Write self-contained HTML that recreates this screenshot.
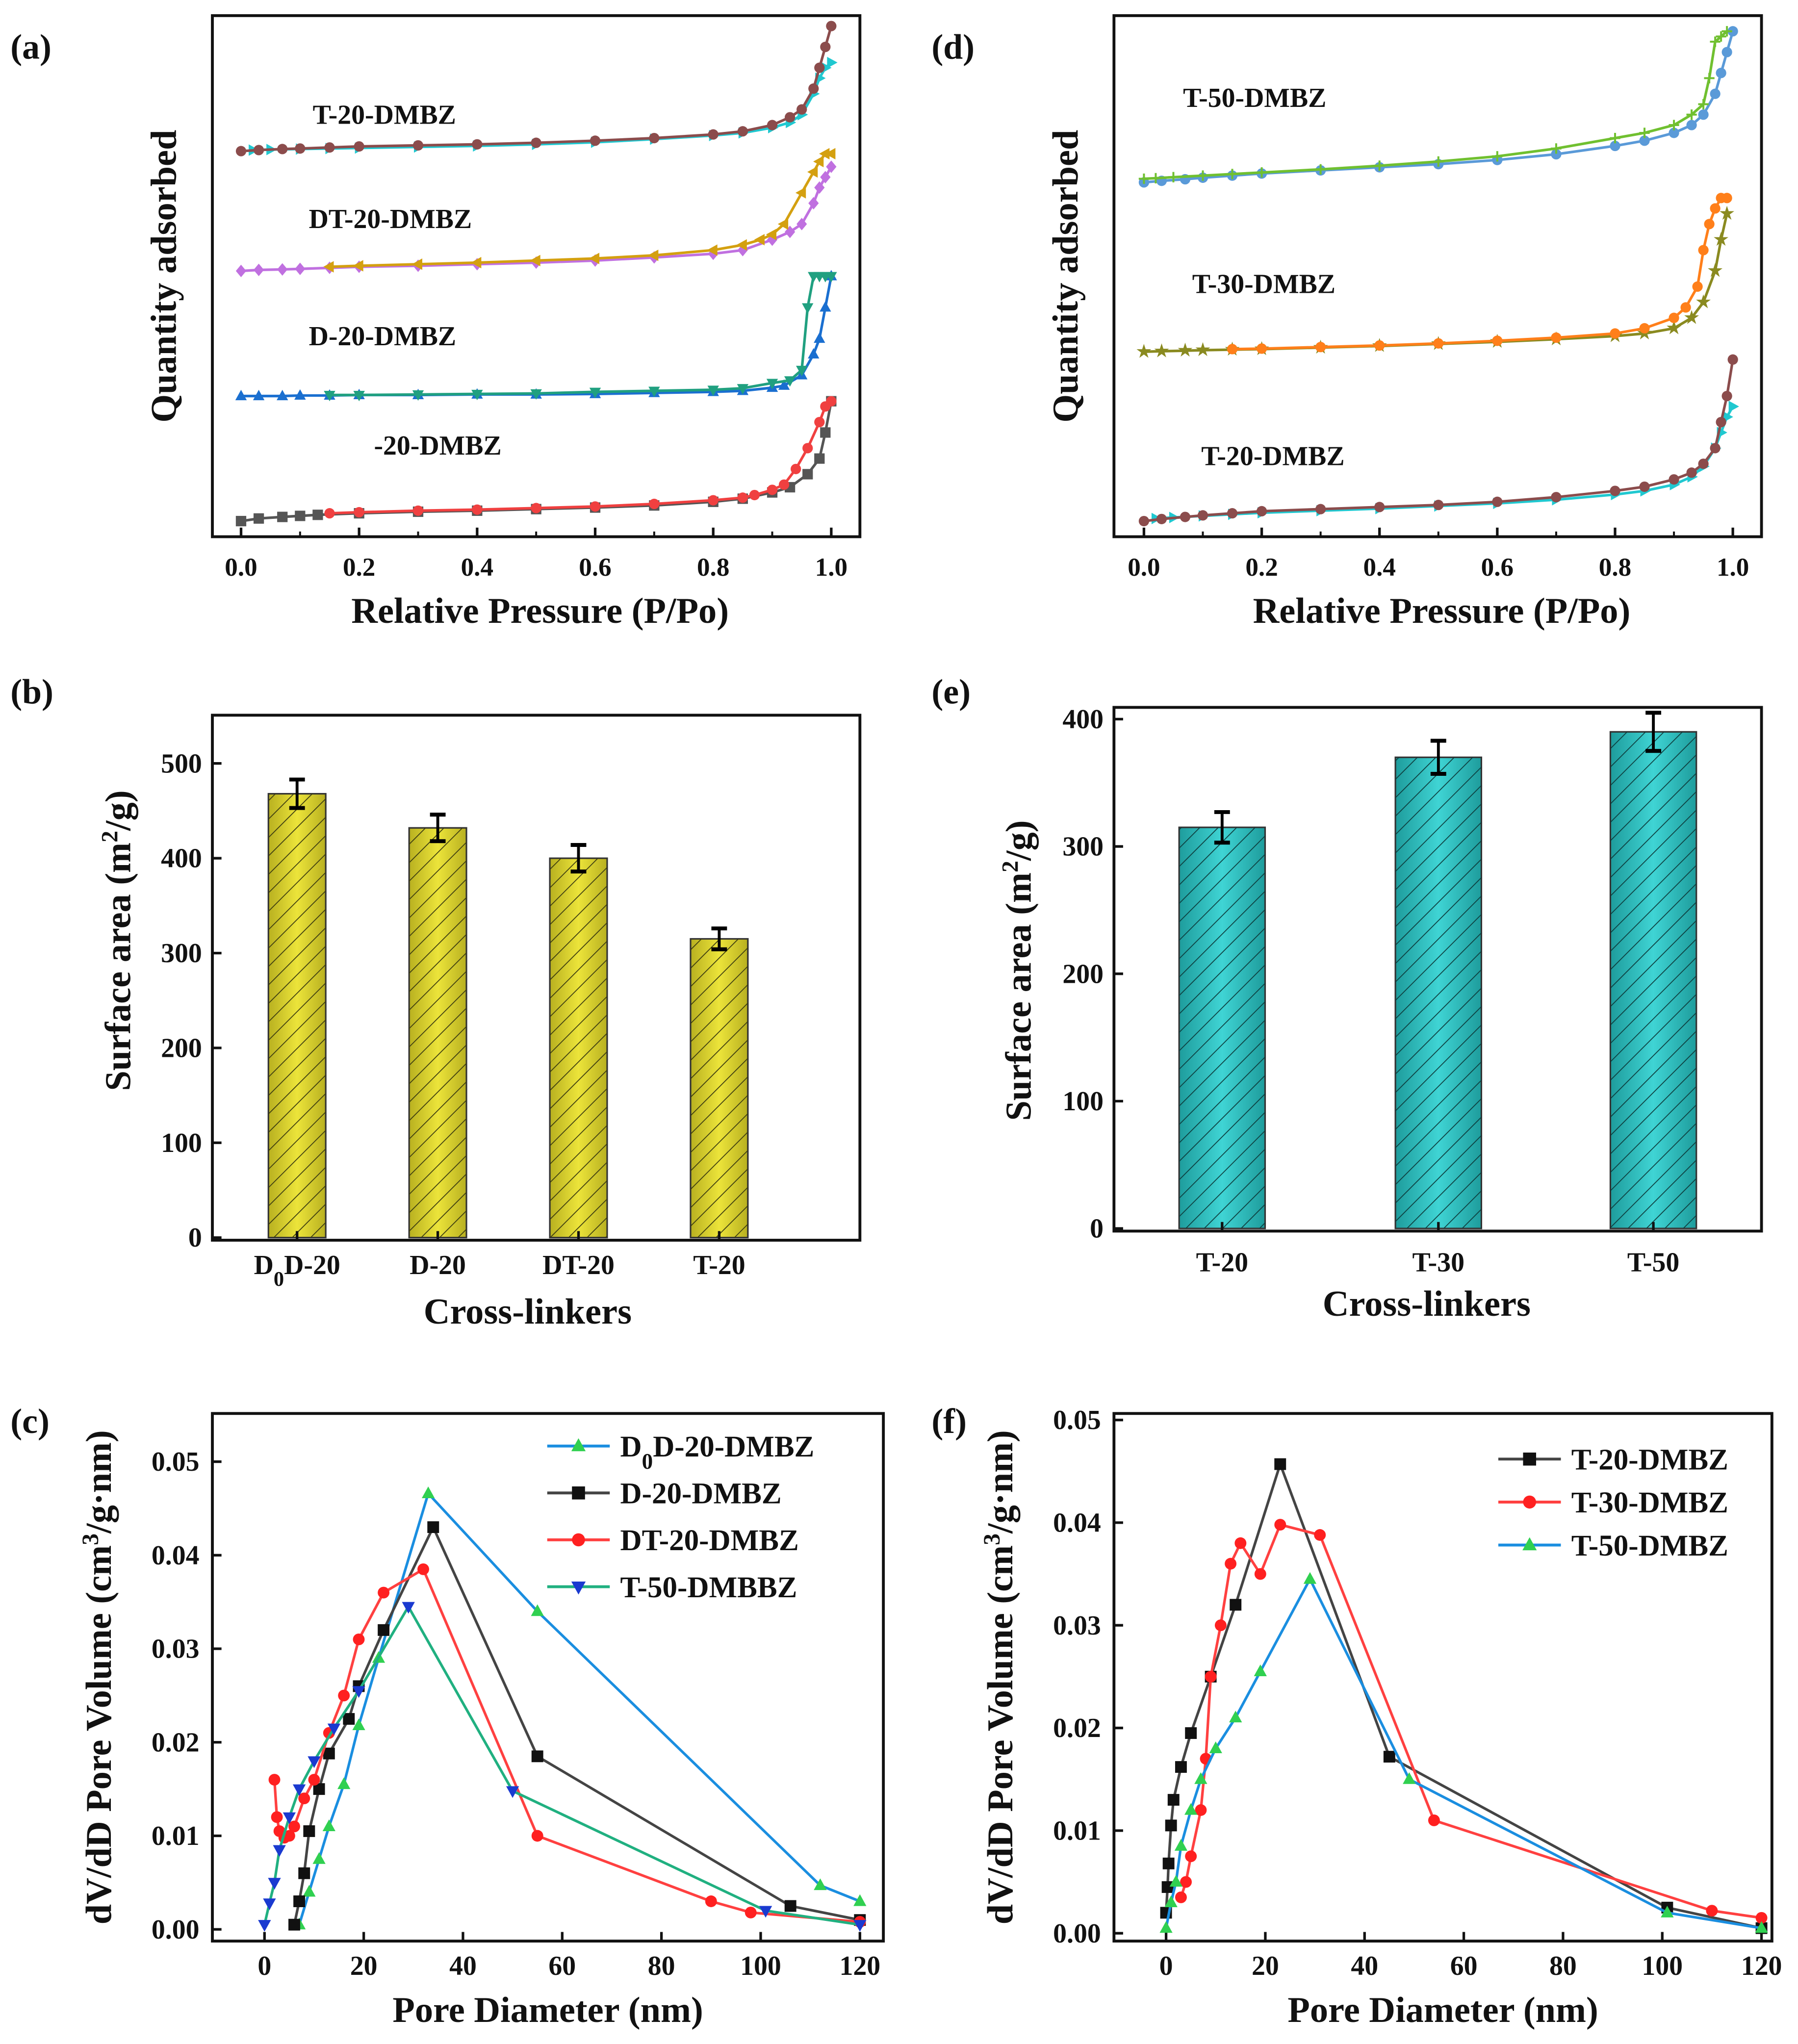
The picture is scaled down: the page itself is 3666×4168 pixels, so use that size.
<!DOCTYPE html>
<html><head><meta charset="utf-8">
<style>
html,body{margin:0;padding:0;background:#fff;}
svg{display:block;font-family:"Liberation Serif",serif;font-weight:bold;}
</style></head>
<body>
<svg id="fig" width="3666" height="4168" viewBox="0 0 1380 1569" xmlns="http://www.w3.org/2000/svg">
<defs>
<linearGradient id="gy" x1="0" x2="1"><stop offset="0" stop-color="#b8b020"/><stop offset="0.5" stop-color="#ece43a"/><stop offset="1" stop-color="#b8b020"/></linearGradient>
<linearGradient id="gt" x1="0" x2="1"><stop offset="0" stop-color="#1e9c9c"/><stop offset="0.5" stop-color="#3fd4d4"/><stop offset="1" stop-color="#1e9c9c"/></linearGradient>
<pattern id="hy" width="10" height="10" patternUnits="userSpaceOnUse" patternTransform="rotate(45)"><rect width="10" height="10" fill="none"/><line x1="0" y1="0" x2="0" y2="10" stroke="#3a3a10" stroke-width="1.3"/></pattern>
<pattern id="ht" width="10" height="10" patternUnits="userSpaceOnUse" patternTransform="rotate(45)"><line x1="0" y1="0" x2="0" y2="10" stroke="#0d3d3d" stroke-width="1.3"/></pattern>
</defs>
</svg>
<script>
// ---------- data ----------
const aBotAdsP=[0,0.03,0.07,0.1,0.13,0.2,0.3,0.4,0.5,0.6,0.7,0.8,0.85,0.9,0.93,0.96,0.98,0.99,1.0];
const aBotAdsQ=[3,3.5,3.8,4,4.2,4.5,4.8,5,5.3,5.6,6,6.7,7.3,8.5,9.5,12,15,20,26];
const aBotDesP=[1.0,0.99,0.98,0.96,0.94,0.92,0.9,0.87,0.85,0.8,0.7,0.6,0.5,0.4,0.3,0.2,0.15];
const aBotDesQ=[26,25,22,17,13,10,9,8,7.5,7,6.3,5.8,5.5,5.2,5,4.7,4.5];
const aDAdsP=[0,0.03,0.07,0.1,0.15,0.2,0.3,0.4,0.5,0.6,0.7,0.8,0.85,0.9,0.92,0.95,0.97,0.98,0.99,1.0];
const aDAdsQ=[27,27,27,27.1,27.1,27.2,27.2,27.3,27.3,27.4,27.6,27.8,28,28.6,29,31,35,38,44,50];
const aDDesP=[1.0,0.99,0.98,0.97,0.96,0.95,0.93,0.9,0.85,0.8,0.7,0.6,0.5,0.4,0.3,0.2,0.15];
const aDDesQ=[50,50,50,50,44,32,30,29.5,28.5,28.2,28,27.8,27.5,27.4,27.3,27.2,27.2];
const aDTAdsP=[0,0.03,0.07,0.1,0.15,0.2,0.3,0.4,0.5,0.6,0.7,0.8,0.85,0.9,0.93,0.95,0.97,0.98,0.99,1.0];
const aDTAdsQ=[51,51.2,51.3,51.4,51.6,51.8,52,52.3,52.6,53,53.6,54.3,55,57,58.5,60,64,67,69,71];
const aDTDesP=[1.0,0.99,0.98,0.97,0.95,0.92,0.9,0.88,0.85,0.8,0.7,0.6,0.5,0.4,0.3,0.2,0.15];
const aDTDesQ=[73.5,73.5,72,70,66,60,58,57,56,55,54,53.4,53,52.6,52.3,52,51.8];
const aTAdsP=[0,0.03,0.07,0.1,0.15,0.2,0.3,0.4,0.5,0.6,0.7,0.8,0.85,0.9,0.93,0.95,0.97,0.98,0.99,1.0];
const aTAdsQ=[74,74.2,74.4,74.5,74.7,74.9,75.1,75.3,75.6,76,76.5,77.2,77.8,79,80.5,82,86,90,94,98];
const aTDesP=[1.0,0.99,0.98,0.97,0.95,0.93,0.9,0.85,0.8,0.7,0.6,0.5,0.4,0.3,0.2,0.15,0.1,0.05,0.02];
const aTDesQ=[91,90,88,85,81,79.5,78.5,77.5,77,76.3,75.7,75.3,75,74.8,74.6,74.5,74.4,74.3,74.2];
const dT20AdsP=aTAdsP;
const dT20AdsQ=[3,3.4,3.8,4.1,4.5,4.9,5.3,5.7,6.1,6.7,7.6,8.8,9.6,11,12.3,14,17,22,27,34];
const dT20DesP=[1.0,0.99,0.98,0.97,0.95,0.93,0.9,0.85,0.8,0.7,0.6,0.5,0.4,0.3,0.2,0.15,0.1,0.05,0.02];
const dT20DesQ=[25,23,20,17,13.5,11.5,10,8.8,8.1,7.1,6.4,5.9,5.4,5,4.6,4.3,4,3.7,3.5];
const dT30AdsP=[0,0.03,0.07,0.1,0.15,0.2,0.3,0.4,0.5,0.6,0.7,0.8,0.85,0.9,0.93,0.95,0.97,0.98,0.99];
const dT30AdsQ=[35.5,35.6,35.7,35.8,35.9,36,36.3,36.6,37,37.4,37.9,38.5,39,40,42,45,51,57,62];
const dT30DesP=[0.99,0.98,0.97,0.96,0.95,0.94,0.92,0.9,0.85,0.8,0.7,0.6,0.5,0.4,0.3,0.2,0.15];
const dT30DesQ=[65,65,63,60,55,48,44,42,40,39,38.2,37.6,37.1,36.7,36.4,36.1,36];
const dT50AdsP=[0,0.03,0.07,0.1,0.15,0.2,0.3,0.4,0.5,0.6,0.7,0.8,0.85,0.9,0.93,0.95,0.97,0.98,0.99,1.0];
const dT50AdsQ=[68,68.3,68.6,68.9,69.3,69.7,70.3,70.9,71.5,72.3,73.4,75,76,77.5,79,81,85,89,93,97];
const dT50DesP=[0.99,0.98,0.97,0.96,0.95,0.93,0.9,0.85,0.8,0.7,0.6,0.5,0.4,0.3,0.2,0.15,0.1,0.05,0.02,0];
const dT50DesQ=[97,96,95,88,83,81,79,77.5,76.5,74.5,73,72,71.2,70.5,69.9,69.6,69.3,69,68.8,68.7];
const bCats=["D0D-20","D-20","DT-20","T-20"];
const bVals=[468,432,400,315];
const bErrs=[15,14,14,11];
const eCats=["T-20","T-30","T-50"];
const eVals=[315,370,390];
const eErrs=[12,13,15];
const cD0DX=[7,9,11,13,16,19,23,33,55,112,120];
const cD0DY=[0.0005,0.004,0.0075,0.011,0.0155,0.0218,0.029,0.0466,0.034,0.0047,0.003];
const cDX=[6,7,8,9,11,13,17,19,24,34,55,106,120];
const cDY=[0.0005,0.003,0.006,0.0105,0.015,0.0188,0.0225,0.026,0.032,0.043,0.0185,0.0025,0.001];
const cDTX=[2,2.5,3,4,5,6,8,10,13,16,19,24,32,55,90,98,120];
const cDTY=[0.016,0.012,0.0105,0.0098,0.01,0.011,0.014,0.016,0.021,0.025,0.031,0.036,0.0385,0.010,0.003,0.0018,0.0008];
const cT50X=[0,1,2,3,5,7,10,14,19,29,50,101,120];
const cT50Y=[0.0005,0.0028,0.005,0.0085,0.012,0.015,0.018,0.0215,0.0255,0.0345,0.0148,0.002,0.0005];
const fT20X=[0,0.3,0.5,1,1.5,3,5,9,14,23,45,101,120];
const fT20Y=[0.002,0.0045,0.0068,0.0105,0.013,0.0162,0.0195,0.025,0.032,0.0457,0.0172,0.0025,0.0005];
const fT30X=[3,4,5,7,8,9,11,13,15,19,23,31,54,110,120];
const fT30Y=[0.0035,0.005,0.0075,0.012,0.017,0.025,0.030,0.036,0.038,0.035,0.0398,0.0388,0.011,0.0022,0.0015];
const fT50X=[0,1,2,3,5,7,10,14,19,29,49,101,120];
const fT50Y=[0.0005,0.003,0.005,0.0085,0.012,0.015,0.018,0.021,0.0255,0.0345,0.015,0.002,0.0005];
const pTicks=["0.0","0.2","0.4","0.6","0.8","1.0"];
const dTicks=["0","20","40","60","80","100","120"];
const cYTicks=["0.00","0.01","0.02","0.03","0.04","0.05"];

// ---------- helpers ----------
const svg=document.getElementById('fig');
const NS='http://www.w3.org/2000/svg';
function mk(tag,attrs,parent){const e=document.createElementNS(NS,tag);for(const k in attrs)e.setAttribute(k,attrs[k]);(parent||svg).appendChild(e);return e;}
function txt(s,x,y,size,anchor,parent,rot){const t=mk('text',{x:x,y:y,'font-size':size,'text-anchor':anchor||'middle',fill:'#111'},parent);if(rot)t.setAttribute('transform','rotate(-90 '+x+' '+y+')');t.textContent=s;return t;}
function marker(g,type,x,y,c,s){
  s=s||4.5;
  if(type==='circle')mk('circle',{cx:x,cy:y,r:s,fill:c},g);
  else if(type==='square')mk('rect',{x:x-s,y:y-s,width:2*s,height:2*s,fill:c},g);
  else if(type==='up')mk('polygon',{points:`${x},${y-s*1.2} ${x-s*1.1},${y+s*0.8} ${x+s*1.1},${y+s*0.8}`,fill:c},g);
  else if(type==='down')mk('polygon',{points:`${x},${y+s*1.2} ${x-s*1.1},${y-s*0.8} ${x+s*1.1},${y-s*0.8}`,fill:c},g);
  else if(type==='right')mk('polygon',{points:`${x+s*1.2},${y} ${x-s*0.8},${y-s*1.1} ${x-s*0.8},${y+s*1.1}`,fill:c},g);
  else if(type==='left')mk('polygon',{points:`${x-s*1.2},${y} ${x+s*0.8},${y-s*1.1} ${x+s*0.8},${y+s*1.1}`,fill:c},g);
  else if(type==='diamond')mk('polygon',{points:`${x},${y-s*1.2} ${x+s},${y} ${x},${y+s*1.2} ${x-s},${y}`,fill:c},g);
  else if(type==='star')mk('text',{x:x,y:y+4,'font-size':13,'text-anchor':'middle',fill:c},g).textContent='★';
  else if(type==='plus'){mk('line',{x1:x-s,y1:y,x2:x+s,y2:y,stroke:c,'stroke-width':1.5},g);mk('line',{x1:x,y1:y-s,x2:x,y2:y+s,stroke:c,'stroke-width':1.5},g);}
}
function series(g,xs,ys,sx,sy,lc,mc,type,ms){
  const pts=xs.map((v,i)=>sx(v)+','+sy(ys[i])).join(' ');
  mk('polyline',{points:pts,fill:'none',stroke:lc,'stroke-width':2},g);
  xs.forEach((v,i)=>marker(g,type,sx(v),sy(ys[i]),mc,ms));
}
function box(g,x0,y0,x1,y1){mk('rect',{x:x0,y:y0,width:x1-x0,height:y1-y0,fill:'none',stroke:'#111','stroke-width':2.2},g);}

[['(a)',8,45],['(d)',715,45],['(b)',8,540],['(e)',715,540],['(c)',8,1100],['(f)',715,1100]].forEach(p=>{
  const t=txt(p[0],p[1],p[2],27,'start');
  
  
});

function isoPanel(name,x0,x1,px0,px1,curves,labels){
  const g=mk('g',{});
  
  
  const y0=12,y1=412;
  box(g,x0-22,y0,x1+22,y1);
  const sx=p=>px0+(px1-px0)*p, sy=q=>y1-(y1-y0)*q/100;
  pTicks.forEach(t=>{const x=sx(parseFloat(t));mk('line',{x1:x,y1:y1,x2:x,y2:y1-7,stroke:'#111','stroke-width':2},g);txt(t,x,y1+30,20,'middle',g);});
  [0.1,0.3,0.5,0.7,0.9].forEach(v=>mk('line',{x1:sx(v),y1:y1,x2:sx(v),y2:y1-4,stroke:'#111','stroke-width':1.5},g));
  curves.forEach(c=>series(g,c[0],c[1],sx,sy,c[2],c[2],c[3],4));
  labels.forEach(l=>txt(l[0],l[1],l[2],21,'start',g));
  const xt=txt('Relative Pressure (P/Po)',(x0+x1)/2+3,y1+66,28,'middle',g);
  
  const yt=txt('Quantity adsorbed',x0-50,(y0+y1)/2,28,'middle',g,true);
  
}
isoPanel('panel-a-isotherms',163+22,660-22,185,638,[
  [aBotAdsP,aBotAdsQ,'#555','square'],[aBotDesP,aBotDesQ,'#f04040','circle'],
  [aDAdsP,aDAdsQ,'#1a6fd0','up'],[aDDesP,aDDesQ,'#20a080','down'],
  [aDTAdsP,aDTAdsQ,'#c070e0','diamond'],[aDTDesP,aDTDesQ,'#d4a010','left'],
  [aTDesP,aTDesQ,'#20c8d0','right'],[aTAdsP,aTAdsQ,'#8b4c4c','circle']
],[['T-20-DMBZ',240,95],['DT-20-DMBZ',237,175],['D-20-DMBZ',237,265],['-20-DMBZ',287,349]]);
isoPanel('panel-d-isotherms',855+22,1352-22,878,1330,[
  [dT20DesP,dT20DesQ,'#20c8d0','right'],[dT20AdsP,dT20AdsQ,'#8b4c4c','circle'],
  [dT30AdsP,dT30AdsQ,'#8a8a20','star'],[dT30DesP,dT30DesQ,'#ff7f1a','circle'],
  [dT50AdsP,dT50AdsQ,'#5a9ad8','circle'],[dT50DesP,dT50DesQ,'#70c030','plus']
],[['T-50-DMBZ',908,82],['T-30-DMBZ',915,225],['T-20-DMBZ',922,357]]);

function barPanel(name,x0,x1,y0,y1,yZero,yTopVal,yTopPix,ticks,cats,vals,errs,centers,bw,fill,hatch,catY,titleY,titleX,ytX,ytY){
  const g=mk('g',{});
  
  
  const sy=v=>yZero-(yZero-yTopPix)*v/yTopVal;
  box(g,x0,y0,x1,y1);
  ticks.forEach(v=>{const y=sy(v);mk('line',{x1:x0,y1:y,x2:x0+7,y2:y,stroke:'#111','stroke-width':2},g);txt(String(v),x0-8,y+7,21,'end',g);});
  cats.forEach((c,i)=>{
    const cx=centers[i],top=sy(vals[i]);
    const b=mk('rect',{x:cx-bw/2,y:top,width:bw,height:yZero-top,fill:fill,stroke:'#333','stroke-width':1.2},g);
    
    
    mk('rect',{x:cx-bw/2,y:top,width:bw,height:yZero-top,fill:hatch},g);
    const et=sy(vals[i]+errs[i]),eb=sy(vals[i]-errs[i]);
    mk('line',{x1:cx,y1:et,x2:cx,y2:eb,stroke:'#000','stroke-width':2.2},g);
    mk('line',{x1:cx-6,y1:et,x2:cx+6,y2:et,stroke:'#000','stroke-width':3},g);
    mk('line',{x1:cx-6,y1:eb,x2:cx+6,y2:eb,stroke:'#000','stroke-width':3},g);
    mk('line',{x1:cx,y1:y1,x2:cx,y2:y1-7,stroke:'#111','stroke-width':2},g);
    if(c==='D0D-20'){const t=txt('',cx,catY,21,'middle',g);t.innerHTML='D<tspan baseline-shift="sub" font-size="16">0</tspan>D-20';}
    else txt(c,cx,catY,21,'middle',g);
  });
  const xt=txt('Cross-linkers',titleX,titleY,28,'middle',g);
  
  const yt=txt('',ytX,ytY,28,'middle',g,true);
  yt.innerHTML='Surface area (m<tspan baseline-shift="super" font-size="18">2</tspan>/g)';
  
}
barPanel('panel-b-bar-chart',163,660,549,952,950,500,586,[0,100,200,300,400,500],bCats,bVals,bErrs,[228,336,444,552],44,'url(#gy)','url(#hy)',978,1016,405,100,722);
barPanel('panel-e-bar-chart',855,1352,543,945,943,400,552,[0,100,200,300,400],eCats,eVals,eErrs,[938,1104,1269],66,'url(#gt)','url(#ht)',976,1010,1095,791,745);

function psdPanel(name,x0,x1,y0,y1,xz,x120,yz,y05,ser,leg,legX,legY0,legDy,ytX){
  const g=mk('g',{});
  
  
  const sx=v=>xz+(x120-xz)*v/120, sy=v=>yz-(yz-y05)*v/0.05;
  box(g,x0,y0,x1,y1);
  dTicks.forEach(t=>{const x=sx(+t);mk('line',{x1:x,y1:y1,x2:x,y2:y1-7,stroke:'#111','stroke-width':2},g);txt(t,x,y1+26,21,'middle',g);});
  cYTicks.forEach(t=>{const y=sy(+t);mk('line',{x1:x0,y1:y,x2:x0+7,y2:y,stroke:'#111','stroke-width':2},g);txt(t,x0-10,y+7,21,'end',g);});
  ser.forEach(s=>series(g,s[0],s[1],sx,sy,s[2],s[3],s[4],4.5));
  leg.forEach((l,i)=>{
    const y=legY0+i*legDy;
    const e=mk('g',{},g);
    
    
    mk('line',{x1:legX,y1:y,x2:legX+48,y2:y,stroke:l[1],'stroke-width':2.2},e);
    marker(e,l[3],legX+24,y,l[2],5);
    const t=txt('',legX+56,y+8,23,'start',e);t.innerHTML=l[0];
  });
  const xt=txt('Pore Diameter (nm)',(x0+x1)/2,y1+62,28,'middle',g);
  
  const yt=txt('',ytX,(y0+y1)/2,28,'middle',g,true);
  yt.innerHTML='dV/dD Pore Volume (cm<tspan baseline-shift="super" font-size="18">3</tspan>/g·nm)';
  
}
psdPanel('panel-c-pore-size',163,678,1085,1490,203,660,1481,1122,[
  [cD0DX,cD0DY,'#1a8ee0','#30d050','up'],
  [cDX,cDY,'#444','#111','square'],
  [cDTX,cDTY,'#ff4040','#ff2020','circle'],
  [cT50X,cT50Y,'#20b080','#1a3ad0','down']
],[['D<tspan baseline-shift="sub" font-size="17">0</tspan>D-20-DMBZ','#1a8ee0','#30d050','up'],['D-20-DMBZ','#444','#111','square'],['DT-20-DMBZ','#ff4040','#ff2020','circle'],['T-50-DMBBZ','#20b080','#1a3ad0','down']],420,1110,36,85);
psdPanel('panel-f-pore-size',855,1360,1085,1490,895,1352,1484,1090,[
  [fT20X,fT20Y,'#444','#111','square'],
  [fT30X,fT30Y,'#ff4040','#ff2020','circle'],
  [fT50X,fT50Y,'#1a8ee0','#30d050','up']
],[['T-20-DMBZ','#444','#111','square'],['T-30-DMBZ','#ff4040','#ff2020','circle'],['T-50-DMBZ','#1a8ee0','#30d050','up']],1150,1120,33,777);
</script>
</body></html>
